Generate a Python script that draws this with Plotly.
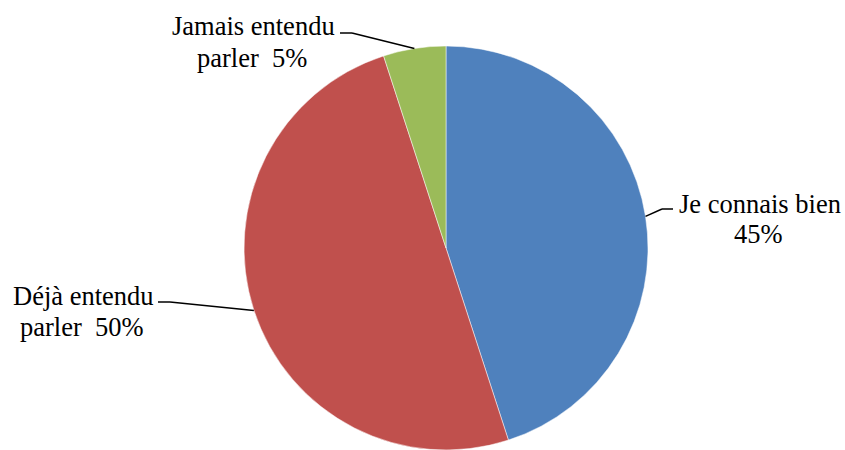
import math
import plotly.graph_objects as go

# Data
categories = ["Je connais bien", "Déjà entendu parler", "Jamais entendu parler"]
values = [45, 50, 5]
label_lines = [["Je connais bien", "45%"],
               ["Déjà entendu", "parler \u00a050%"],
               ["Jamais entendu", "parler \u00a05%"]]
colors = ["#4F81BD", "#C0504D", "#9BBB59"]

W, H = 845, 450
# pie placement (pixels)
dom_x = [243 / W, 649 / W]
dom_y = [0, 404 / H]
cx, cy = 446, 248
r = 202


def px(x):
    return x / W


def py(y):
    return (H - y) / H


fig = go.Figure(go.Pie(
    labels=categories, values=values, sort=False, direction="clockwise",
    rotation=0, textinfo="none", hoverinfo="label+percent",
    marker=dict(colors=colors, line=dict(color="white", width=0.5)),
    domain=dict(x=dom_x, y=dom_y), showlegend=False,
))

# edge points at slice mid-angles computed from values
total = sum(values)
cum = 0
edges = []
for v in values:
    mid = (cum + v / 2) / total * 2 * math.pi
    edges.append((cx + r * math.sin(mid), cy - r * math.cos(mid)))
    cum += v

# label layout (pixel centres of each text line) and leader elbows
label_pos = [
    [(760, 204), (758, 234)],
    [(83, 296), (82, 327)],
    [(253, 26), (252, 58)],
]
elbows = [
    [(662, 209), (673, 209)],
    [(170, 302), (158, 302)],
    [(352, 33), (340, 33)],
]

shapes = []
for (ex, ey), (e1, e2) in zip(edges, elbows):
    pts = [(ex, ey), e1, e2]
    for (x0, y0), (x1, y1) in zip(pts[:-1], pts[1:]):
        shapes.append(dict(type="line", xref="paper", yref="paper",
                           x0=px(x0), y0=py(y0), x1=px(x1), y1=py(y1),
                           line=dict(color="black", width=1.5)))

annotations = []
for lines, poss in zip(label_lines, label_pos):
    for t, (x, y) in zip(lines, poss):
        annotations.append(dict(text=t, x=px(x), y=py(y), xref="paper", yref="paper",
                                xanchor="center", yanchor="middle", showarrow=False,
                                font=dict(family="Liberation Serif",
                                          size=26.5, color="black")))

fig.update_layout(
    width=W, height=H, margin=dict(l=0, r=0, t=0, b=0),
    paper_bgcolor="white", plot_bgcolor="white",
    shapes=shapes, annotations=annotations,
)

fig.write_html("out.html", post_script="document.body.style.margin='0';",
               config={"displayModeBar": False})
